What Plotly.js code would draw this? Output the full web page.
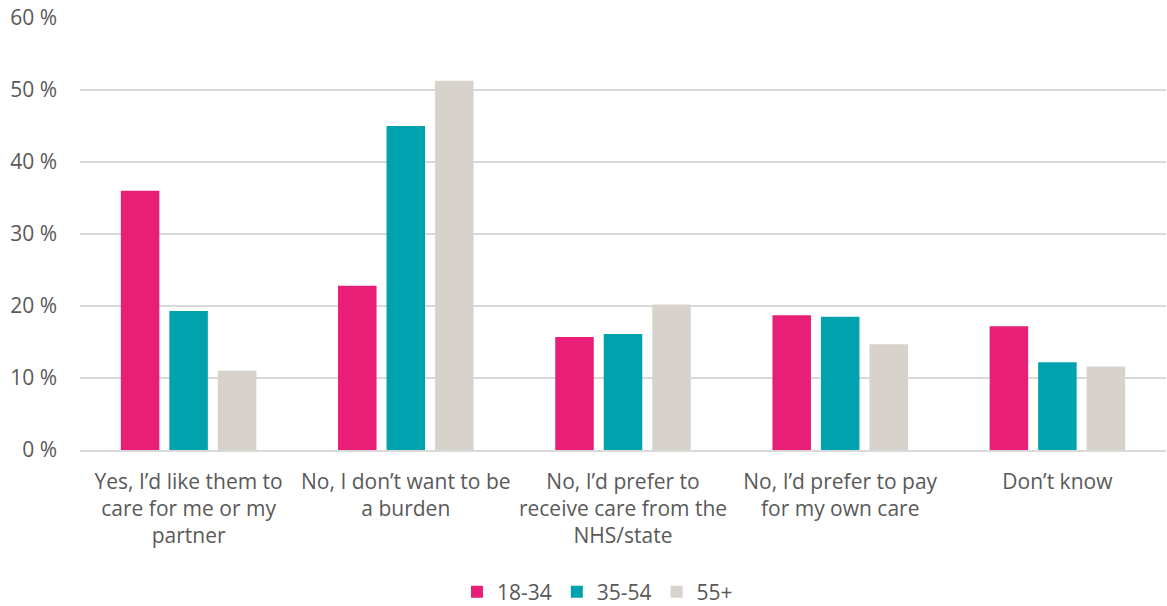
<!DOCTYPE html>
<html><head><meta charset="utf-8">
<script src="https://cdn.plot.ly/plotly-3.0.1.min.js"></script>
<style>html,body{margin:0;padding:0;background:#fff}#chart{width:1167px;height:606px}</style>
</head><body><div id="chart"></div>
<script>
var categories = [
  "Yes, I\u2019d like them to<br>care for me or my<br>partner",
  "No, I don\u2019t want to be<br>a burden",
  "No, I\u2019d prefer to<br>receive care from the<br>NHS/state",
  "No, I\u2019d prefer to pay<br>for my own care",
  "Don\u2019t know"
];
var age18_34 = [36.0, 22.8, 15.7, 18.7, 17.2];
var age35_54 = [19.3, 45.0, 16.1, 18.5, 12.2];
var age55plus = [11.0, 51.3, 20.2, 14.7, 11.6];
var seriesNames = ["18-34", "35-54", "55+"];
var colors = ["#E91E77", "#00A3AD", "#D7D2CC"];
var values = [age18_34, age35_54, age55plus];
var font = "'Open Sans', sans-serif";
var traces = values.map(function(v, i){
  return {type:'bar', x: categories, y: v, name: seriesNames[i], marker:{color: colors[i]}, hoverinfo:'none'};
});
var layout = {
  width:1167, height:606,
  margin:{l:80, r:1, t:18, b:156},
  barmode:'group', bargap:0.33, bargroupgap:0.206,
  font:{family:font, size:21, color:'#595959'},
  paper_bgcolor:'#fff', plot_bgcolor:'#fff',
  showlegend:true,
  legend:{orientation:'h', xref:'container', yref:'container', x:0.512, xanchor:'center', y:0.023, yanchor:'middle', font:{size:21, color:'#595959'}, itemwidth:30},
  xaxis:{showline:true, linecolor:'#d9d9d9', linewidth:1.5, ticks:'', tickfont:{size:21}, automargin:false, ticklabelstandoff:12},
  yaxis:{range:[0,60], dtick:10, ticksuffix:' %', gridcolor:'#d9d9d9', gridwidth:1.5, zeroline:false, showline:false, ticks:'', tickfont:{size:21}, automargin:false, ticklabelstandoff:22}
};
Plotly.newPlot('chart', traces, layout, {displayModeBar:false, staticPlot:true});
</script></body></html>
